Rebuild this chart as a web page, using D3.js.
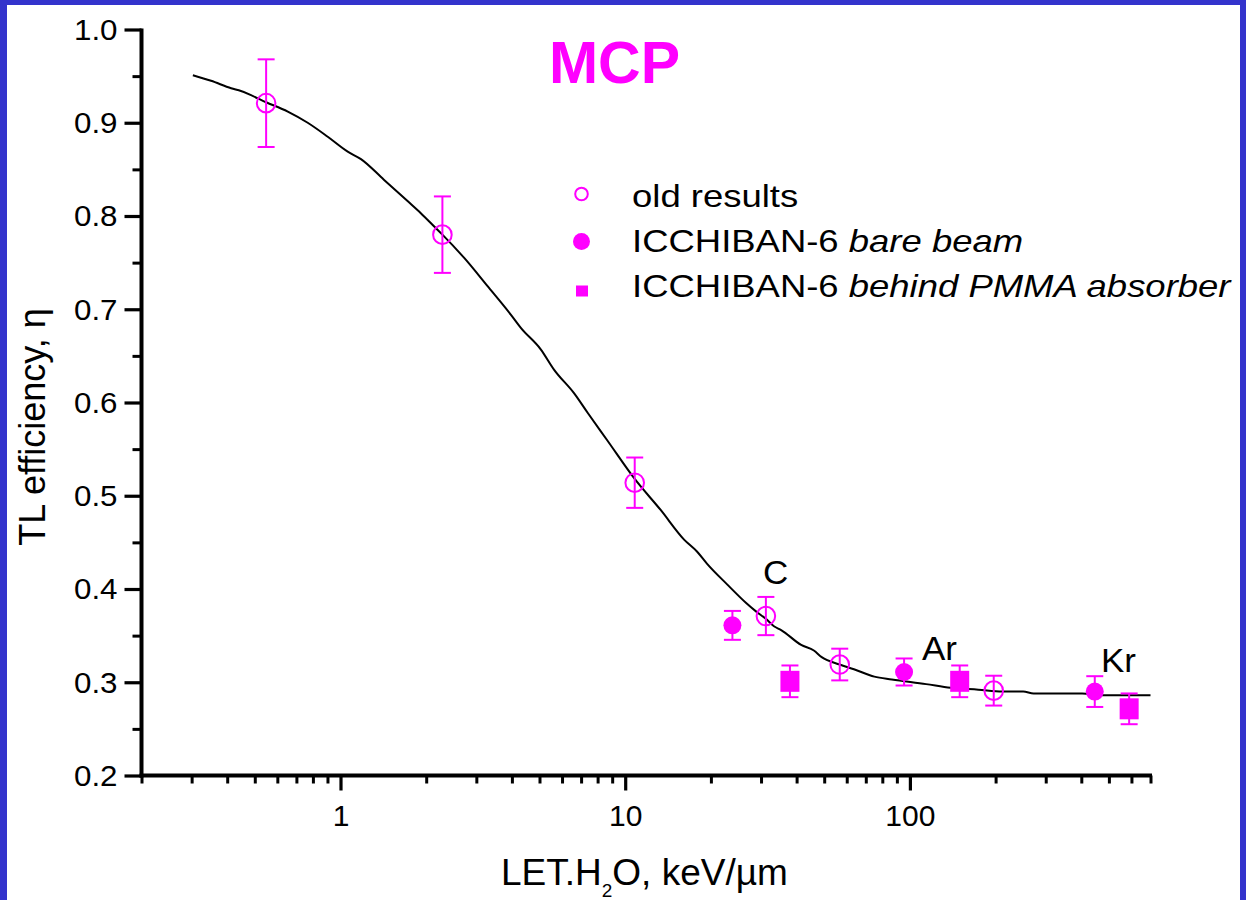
<!DOCTYPE html>
<html>
<head>
<meta charset="utf-8">
<script src="https://cdn.jsdelivr.net/npm/d3@7"></script>
<style>
  html, body { margin: 0; padding: 0; background: #ffffff; }
  svg { display: block; }
  text { font-family: "Liberation Sans", Arial, Helvetica, sans-serif; }
</style>
</head>
<body>
<svg id="chart" width="1246" height="900"></svg>
<script>
// ---------------- data ----------------
const title = "MCP";
const xTitleParts = ["LET.H", "2", "O, keV/\u00b5m"];
const yTitle = "TL efficiency, \u03b7";

const xMajorTicks = [1, 10, 100];
const xMinorTicks = [0.2,0.3,0.4,0.5,0.6,0.7,0.8,0.9, 2,3,4,5,6,7,8,9, 20,30,40,50,60,70,80,90, 200,300,400,500,600,700];
const yMajorTicks = [0.2, 0.3, 0.4, 0.5, 0.6, 0.7, 0.8, 0.9, 1.0];
const yMinorTicks = [0.25, 0.35, 0.45, 0.55, 0.65, 0.75, 0.85, 0.95];

// fitted curve
const curveLET = [0.303,0.351,0.413,0.447,0.548,0.653,0.767,0.902,1.06,1.18,1.42,1.72,1.915,2.13,2.28,2.72,3.28,3.97,4.30,5.05,5.63,6.61,7.38,8.67,10.8,13.3,16.1,17.9,19.4,22.8,26.6,28.8,31.2,33.3,35.3,41.5,46.0,49.0,56.7,63.6,75.0,86.4,114,139,174,211,250,272,403,465,700];
const curveEta = [0.951,0.945,0.937,0.934,0.922,0.912,0.900,0.885,0.869,0.861,0.839,0.816,0.803,0.789,0.780,0.755,0.725,0.694,0.680,0.657,0.635,0.610,0.589,0.559,0.518,0.485,0.453,0.440,0.427,0.405,0.385,0.376,0.368,0.360,0.356,0.340,0.334,0.327,0.319,0.314,0.306,0.303,0.298,0.294,0.292,0.290,0.290,0.288,0.288,0.286,0.286];

// old results (open circles)
const oldLET = [0.548, 2.28, 10.8, 31.2, 56.7, 197];
const oldEta = [0.921, 0.780, 0.514, 0.371, 0.319, 0.291];
const oldErr = [0.047, 0.041, 0.027, 0.0205, 0.017, 0.016];

// ICCHIBAN-6 bare beam (filled circles)
const bareLET = [23.8, 95.4, 446];
const bareEta = [0.361, 0.311, 0.290];
const bareErr = [0.0155, 0.0145, 0.0165];

// ICCHIBAN-6 behind PMMA absorber (filled squares)
const pmmaLET = [37.9, 149.6, 589];
const pmmaEta = [0.301, 0.301, 0.2715];
const pmmaErr = [0.017, 0.017, 0.0165];

// ion labels
const ionNames = ["C", "Ar", "Kr"];

const legendLabels = [
  [{t: "old results", i: false}],
  [{t: "ICCHIBAN-6 ", i: false}, {t: "bare beam", i: true}],
  [{t: "ICCHIBAN-6 ", i: false}, {t: "behind PMMA absorber", i: true}]
];
const legendMarkers = ["open", "filled", "square"];

// ---------------- layout ----------------
const MAG = "#ff00ff";
const svg = d3.select("#chart");

svg.append("rect").attr("x", 0).attr("y", 0).attr("width", 1246).attr("height", 900).attr("fill", "#ffffff");

const x = d3.scaleLog().domain([0.2, 700]).range([141.5, 1150.5]);
const y = d3.scaleLinear().domain([0.2, 1.0]).range([775.5, 29.5]);

const axisX0 = x.range()[0];
const axisY0 = y.range()[0];

// --------------- curve ---------------
const curveData = curveLET.map((v, i) => [v, curveEta[i]]);
svg.append("path")
  .datum(curveData)
  .attr("fill", "none")
  .attr("stroke", "#000")
  .attr("stroke-width", 2)
  .attr("d", d3.line().x(d => x(d[0])).y(d => y(d[1])).curve(d3.curveMonotoneX));

// --------------- axes ---------------
function styleAxis(g, w) {
  g.selectAll("line").attr("stroke", "#000").attr("stroke-width", w);
  g.select(".domain").remove();
}

// y axis
const gy = svg.append("g").attr("transform", `translate(${axisX0},0)`);
const gyMinor = gy.append("g").call(d3.axisLeft(y).tickValues(yMinorTicks).tickSize(9).tickFormat(""));
styleAxis(gyMinor, 3);
const gyMajor = gy.append("g").call(d3.axisLeft(y).tickValues(yMajorTicks).tickSize(17).tickPadding(7).tickFormat(d3.format(".1f")));
styleAxis(gyMajor, 3.2);
gyMajor.selectAll("text")
  .attr("fill", "#000")
  .attr("dy", "0.34em")
  .style("font-size", "29px")
  .style("font-family", '"Liberation Sans", Arial, sans-serif')
  .attr("transform", function() {
    const tx = +d3.select(this).attr("x");
    return `translate(${tx},0) scale(1.08,1) translate(${-tx},0)`;
  });

// x axis
const gx = svg.append("g").attr("transform", `translate(0,${axisY0})`);
const gxMinor = gx.append("g").call(d3.axisBottom(x).tickValues(xMinorTicks).tickSize(8).tickFormat(""));
styleAxis(gxMinor, 3);
const gxMajor = gx.append("g").call(d3.axisBottom(x).tickValues(xMajorTicks).tickSize(15).tickPadding(14).tickFormat(d3.format("d")));
styleAxis(gxMajor, 3.2);
gxMajor.selectAll("text")
  .attr("fill", "#000")
  .style("font-size", "30px")
  .style("font-family", '"Liberation Sans", Arial, sans-serif')
  .attr("transform", "scale(1.0,1)");

// axis lines
svg.append("line")
  .attr("x1", axisX0).attr("x2", axisX0)
  .attr("y1", y(1.0) - 1).attr("y2", axisY0 + 2)
  .attr("stroke", "#000").attr("stroke-width", 4);
svg.append("line")
  .attr("x1", axisX0 - 2).attr("x2", x(700) + 1.5)
  .attr("y1", axisY0).attr("y2", axisY0)
  .attr("stroke", "#000").attr("stroke-width", 4);

// --------------- error bars + markers ---------------
function errorBars(lets, etas, errs) {
  const g = svg.append("g").attr("stroke", MAG).attr("stroke-width", 2).attr("fill", "none");
  lets.forEach((v, i) => {
    const cx = x(v), top = y(etas[i] + errs[i]), bot = y(etas[i] - errs[i]);
    g.append("line").attr("x1", cx).attr("x2", cx).attr("y1", top).attr("y2", bot);
    g.append("line").attr("x1", cx - 8.5).attr("x2", cx + 8.5).attr("y1", top).attr("y2", top);
    g.append("line").attr("x1", cx - 8.5).attr("x2", cx + 8.5).attr("y1", bot).attr("y2", bot);
  });
}
errorBars(oldLET, oldEta, oldErr);
errorBars(bareLET, bareEta, bareErr);
errorBars(pmmaLET, pmmaEta, pmmaErr);

svg.append("g").selectAll("circle").data(oldLET).join("circle")
  .attr("cx", d => x(d)).attr("cy", (d, i) => y(oldEta[i])).attr("r", 9.3)
  .attr("fill", "none").attr("stroke", MAG).attr("stroke-width", 2);

svg.append("g").selectAll("circle").data(bareLET).join("circle")
  .attr("cx", d => x(d)).attr("cy", (d, i) => y(bareEta[i])).attr("r", 9)
  .attr("fill", MAG);

svg.append("g").selectAll("rect").data(pmmaLET).join("rect")
  .attr("x", d => x(d) - 9.5).attr("y", (d, i) => y(pmmaEta[i]) - 10.5)
  .attr("width", 19).attr("height", 21)
  .attr("fill", MAG);

// --------------- ion labels ---------------
const ionPos = [[765, 584.5], [924, 660], [1103, 672.5]];
ionNames.forEach((n, i) => {
  const px = ionPos[i][0] - 2;
  svg.append("text")
    .attr("x", px).attr("y", ionPos[i][1])
    .attr("transform", `translate(${px},0) scale(1.03,1) translate(${-px},0)`)
    .attr("font-size", 34)
    .attr("fill", "#000")
    .text(n);
});

// --------------- legend ---------------
const legY = [194, 241.5, 291];
const legBase = [207, 252, 297.5];
const lg = svg.append("g");
legendMarkers.forEach((m, i) => {
  if (m === "open") {
    lg.append("circle").attr("cx", 581.5).attr("cy", legY[i]).attr("r", 6.3).attr("fill", "none").attr("stroke", MAG).attr("stroke-width", 2);
  } else if (m === "filled") {
    lg.append("circle").attr("cx", 581.5).attr("cy", legY[i]).attr("r", 8.5).attr("fill", MAG);
  } else {
    lg.append("rect").attr("x", 576).attr("y", legY[i] - 5.5).attr("width", 12).attr("height", 11).attr("fill", MAG);
  }
});
const lgt = svg.append("g").attr("transform", "translate(632,0) scale(1.14,1)");
legendLabels.forEach((parts, i) => {
  const t = lgt.append("text").attr("x", 0).attr("y", legBase[i]).attr("font-size", 32).attr("fill", "#000");
  parts.forEach(p => {
    t.append("tspan").attr("font-style", p.i ? "italic" : "normal").text(p.t);
  });
});

// --------------- titles ---------------
svg.append("text")
  .attr("x", 614.5).attr("y", 83)
  .attr("text-anchor", "middle")
  .attr("font-size", 59)
  .attr("font-weight", "bold")
  .attr("fill", MAG)
  .text(title);

const xt = svg.append("text")
  .attr("x", 501).attr("y", 884.5)
  .attr("font-size", 37)
  .attr("fill", "#000");
xt.append("tspan").text(xTitleParts[0]);
xt.append("tspan").attr("font-size", 19).attr("dy", 12.5).text(xTitleParts[1]);
xt.append("tspan").attr("dy", -12.5).text(xTitleParts[2]);

svg.append("text")
  .attr("transform", "translate(44.5,427) rotate(-90)")
  .attr("text-anchor", "middle")
  .attr("font-size", 36)
  .attr("fill", "#000")
  .text(yTitle);

// --------------- frame border ---------------
const BORDER = "#3333cc";
svg.append("rect").attr("x", 0).attr("y", 0).attr("width", 7).attr("height", 900).attr("fill", BORDER);
svg.append("rect").attr("x", 0).attr("y", 0).attr("width", 1246).attr("height", 5).attr("fill", BORDER);
svg.append("rect").attr("x", 1240).attr("y", 0).attr("width", 6).attr("height", 900).attr("fill", BORDER);
</script>
</body>
</html>
